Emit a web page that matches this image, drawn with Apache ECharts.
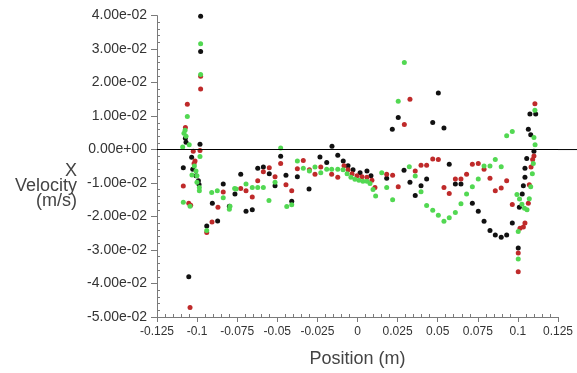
<!DOCTYPE html>
<html><head><meta charset="utf-8">
<script src="https://cdn.jsdelivr.net/npm/echarts@6/dist/echarts.min.js"></script>
<style>html,body{margin:0;padding:0;background:#fff}#c{width:577px;height:373px}</style>
</head><body><div id="c"></div>
<script>
// Axis ranges / ticks
const xRange = [-0.125, 0.125];
const xStep = 0.025;
const yRange = [-0.05, 0.04];
const yStep = 0.01;
const yTitleLines = ['X', 'Velocity', '(m/s)'];

// Series data: [position (m), x velocity (m/s)]
const blackPts = [
  [-0.0978,0.0398],[-0.0978,0.0293],[-0.1073,0.0034],[-0.1069,0.0022],[-0.0982,0.0016],
  [-0.1034,-0.0023],[-0.1086,-0.0054],[-0.1027,-0.0059],[-0.1007,-0.0078],[-0.0992,-0.0093],
  [-0.0988,-0.0104],[-0.0837,-0.0103],[-0.0905,-0.0160],[-0.0799,-0.0169],[-0.0764,-0.0133],
  [-0.0872,-0.0213],[-0.0940,-0.0228],[-0.1052,-0.0380],[-0.0728,-0.0074],[-0.0622,-0.0056],
  [-0.0587,-0.0052],[-0.0550,-0.0072],[-0.0695,-0.0184],[-0.0656,-0.0180],[-0.0514,-0.0108],
  [-0.0479,-0.0020],[-0.0446,-0.0077],[-0.0410,-0.0154],[-0.0302,-0.0118],[-0.0375,-0.0081],
  [-0.0234,-0.0022],[-0.0192,-0.0039],[-0.0159,0.0010],[-0.0123,-0.0017],[-0.0089,-0.0034],
  [-0.0059,-0.0048],[-0.0028,-0.0060],[0.0016,-0.0069],[0.0059,-0.0064],[0.0084,-0.0078],
  [0.0217,0.0061],[0.0254,0.0096],[0.0504,0.0169],[0.0469,0.0081],[0.0539,0.0064],
  [0.0182,-0.0086],[0.0290,-0.0062],[0.0327,-0.0098],[0.0360,-0.0137],[0.0396,-0.0108],
  [0.0431,-0.0088],[0.0572,-0.0044],[0.0610,-0.0103],[0.0645,-0.0103],[0.0716,-0.0160],
  [0.0753,-0.0184],[0.0789,-0.0214],[0.0826,-0.0242],[0.0859,-0.0255],[0.0896,-0.0262],
  [0.0930,-0.0255],[0.0965,-0.0219],[0.1009,-0.0172],[0.1002,-0.0294],[0.1027,-0.0133],
  [0.1034,-0.0108],[0.1044,-0.0083],[0.1044,-0.0056],[0.1055,-0.0027],[0.1100,-0.0005],
  [0.1080,0.0044],[0.1065,0.0061],[0.1075,0.0106],[0.1111,0.0106]
];
const redPts = [
  [-0.0978,0.0219],[-0.0978,0.0181],[-0.1061,0.0135],[-0.1073,0.0066],[-0.1024,-0.0005],
  [-0.0982,-0.0003],[-0.1013,-0.0034],[-0.1019,-0.0042],[-0.1086,-0.0109],[-0.1052,-0.0160],
  [-0.1040,-0.0166],[-0.0837,-0.0127],[-0.0870,-0.0172],[-0.0907,-0.0216],[-0.0940,-0.0248],
  [-0.1044,-0.0472],[-0.0728,-0.0116],[-0.0695,-0.0123],[-0.0656,-0.0142],[-0.0622,-0.0093],
  [-0.0587,-0.0066],[-0.0550,-0.0054],[-0.0514,-0.0081],[-0.0479,-0.0042],[-0.0446,-0.0105],
  [-0.0410,-0.0123],[-0.0375,-0.0057],[-0.0338,-0.0033],[-0.0300,-0.0060],[-0.0265,-0.0074],
  [-0.0229,-0.0052],[-0.0161,-0.0074],[-0.0123,-0.0083],[-0.0084,-0.0048],[-0.0059,-0.0060],
  [-0.0034,-0.0072],[-0.0003,-0.0078],[0.0028,-0.0081],[0.0059,-0.0083],[0.0090,-0.0092],
  [0.0109,-0.0113],[0.0292,0.0075],[0.0327,0.0150],[0.0182,-0.0074],[0.0219,-0.0077],
  [0.0254,-0.0111],[0.0360,-0.0064],[0.0396,-0.0047],[0.0431,-0.0047],[0.0469,-0.0028],
  [0.0504,-0.0030],[0.0539,-0.0113],[0.0572,-0.0131],[0.0610,-0.0088],[0.0645,-0.0088],
  [0.0680,-0.0074],[0.0716,-0.0044],[0.0753,-0.0042],[0.0789,-0.0059],[0.0826,-0.0086],
  [0.0859,-0.0123],[0.0896,-0.0115],[0.0930,-0.0093],[0.0965,-0.0164],[0.1002,-0.0309],
  [0.1002,-0.0365],[0.1013,-0.0235],[0.1034,-0.0231],[0.1044,-0.0219],[0.1065,-0.0160],
  [0.1071,-0.0105],[0.1082,-0.0052],[0.1092,-0.0030],[0.1100,-0.0019],[0.1106,0.0137]
];
const greenPts = [
  [-0.0978,0.0316],[-0.0978,0.0224],[-0.1061,0.0099],[-0.1075,0.0058],[-0.1082,0.0049],
  [-0.1069,0.0040],[-0.1090,0.0008],[-0.1049,0.0014],[-0.0982,-0.0021],[-0.1017,-0.0049],
  [-0.1007,-0.0064],[-0.1032,-0.0076],[-0.1001,-0.0078],[-0.1001,-0.0098],[-0.0986,-0.0113],
  [-0.0986,-0.0123],[-0.1086,-0.0157],[-0.1044,-0.0169],[-0.0909,-0.0128],[-0.0874,-0.0123],
  [-0.0837,-0.0144],[-0.0799,-0.0178],[-0.0757,-0.0118],[-0.0940,-0.0242],[-0.0795,-0.0169],
  [-0.0766,-0.0116],[-0.0695,-0.0103],[-0.0656,-0.0113],[-0.0622,-0.0113],[-0.0587,-0.0113],
  [-0.0552,-0.0152],[-0.0514,-0.0098],[-0.0479,0.0005],[-0.0441,-0.0170],[-0.0410,-0.0165],
  [-0.0375,-0.0034],[-0.0338,-0.0056],[-0.0300,-0.0064],[-0.0265,-0.0052],[-0.0229,-0.0069],
  [-0.0192,-0.0059],[-0.0161,-0.0059],[-0.0123,-0.0059],[-0.0090,-0.0060],[-0.0065,-0.0072],
  [-0.0041,-0.0083],[-0.0016,-0.0089],[0.0009,-0.0092],[0.0034,-0.0095],[0.0059,-0.0095],
  [0.0078,-0.0101],[0.0097,-0.0119],[0.0113,-0.0139],[0.0292,0.0260],[0.0254,0.0144],
  [0.0151,-0.0069],[0.0182,-0.0113],[0.0219,-0.0150],[0.0323,-0.0051],[0.0360,-0.0079],
  [0.0396,-0.0126],[0.0431,-0.0167],[0.0469,-0.0181],[0.0504,-0.0196],[0.0539,-0.0214],
  [0.0572,-0.0204],[0.0610,-0.0188],[0.0645,-0.0162],[0.0680,-0.0133],[0.0716,-0.0111],
  [0.0753,-0.0088],[0.0789,-0.0049],[0.0826,-0.0049],[0.0859,-0.0030],[0.0896,-0.0051],
  [0.0930,0.0041],[0.0965,0.0054],[0.1002,-0.0327],[0.1002,-0.0245],[0.0994,-0.0134],
  [0.1010,-0.0148],[0.1025,-0.0163],[0.1041,-0.0175],[0.1057,-0.0180],[0.1071,-0.0147],
  [0.1080,-0.0111],[0.1090,-0.0072],[0.1096,-0.0042],[0.1107,0.0014],[0.1100,0.0036],
  [0.1106,0.0117]
];

const FONT = 'Liberation Sans, Arial, sans-serif';
function fmtExp(v){
  if (Math.abs(v) < 1e-12) return '0.00e+00';
  const s = v.toExponential(2);
  const parts = s.split('e');
  let sign = parts[1][0], d = parts[1].slice(1);
  if (d.length < 2) d = '0' + d;
  return parts[0] + 'e' + sign + d;
}
function fmtX(v){ return String(parseFloat(v.toFixed(3))); }

const chart = echarts.init(document.getElementById('c'), null, {renderer:'canvas'});
const axisColor = '#7a7a7a';
const titleGraphics = yTitleLines.map(function(t, i){
  return {type:'text', right:500, top:162 + i*15, silent:true,
    style:{text:t, fill:'#444', fontSize:18, fontFamily:FONT, lineHeight:15}};
});
const option = {
  animation: false,
  backgroundColor: '#fff',
  grid: {left:157, right:19, top:15.6, bottom:52.3, containLabel:false},
  xAxis: [{
    type:'value', min:xRange[0], max:xRange[1], interval:xStep,
    axisLine:{show:true, onZero:false, lineStyle:{color:axisColor, width:1}},
    axisTick:{show:true, length:5, lineStyle:{color:axisColor}},
    axisLabel:{fontSize:12, color:'#333', margin:9, fontFamily:FONT, formatter:fmtX},
    splitLine:{show:false},
    name:'Position (m)', nameLocation:'middle', nameGap:33,
    nameTextStyle:{fontSize:18, color:'#444', fontFamily:FONT}
  },{
    type:'value', min:xRange[0], max:xRange[1], interval:xStep, position:'bottom',
    axisLine:{show:false, onZero:false}, axisLabel:{show:false},
    axisTick:{show:false, inside:true},
    minorTick:{show:true, splitNumber:5, length:3, lineStyle:{color:axisColor}},
    splitLine:{show:false}
  }],
  yAxis: [{
    type:'value', min:yRange[0], max:yRange[1], interval:yStep,
    axisLine:{show:true, onZero:false, lineStyle:{color:axisColor, width:1}},
    axisTick:{show:true, length:6, lineStyle:{color:axisColor}},
    axisLabel:{fontSize:14, color:'#333', margin:10, fontFamily:FONT, formatter:fmtExp},
    splitLine:{show:false}
  },{
    type:'value', min:yRange[0], max:yRange[1], interval:yStep, position:'left',
    axisLine:{show:false, onZero:false}, axisLabel:{show:false},
    axisTick:{show:false, inside:true},
    minorTick:{show:true, splitNumber:5, length:3, lineStyle:{color:axisColor}},
    splitLine:{show:false}
  }],
  graphic: titleGraphics,
  series: [
    {type:'scatter', name:'black', data:blackPts, symbolSize:5, itemStyle:{color:'#111111', opacity:1},
     markLine:{silent:true, symbol:['none','none'], label:{show:false},
       lineStyle:{color:'#000', width:1, type:'solid'}, data:[{yAxis:0}]}},
    {type:'scatter', name:'red', data:redPts, symbolSize:5, itemStyle:{color:'#bf2a2a', opacity:1}},
    {type:'scatter', name:'green', data:greenPts, symbolSize:5, itemStyle:{color:'#52d852', opacity:1}}
  ]
};
chart.setOption(option);
// extend the zero line to the right edge, positioned through the axis scale
const p0 = chart.convertToPixel({xAxisIndex:0, yAxisIndex:0}, [xRange[1], 0]);
chart.setOption({graphic: titleGraphics.map(function(){ return {}; }).concat([{type:'line', silent:true,
  shape:{x1:p0[0], y1:p0[1], x2:chart.getWidth(), y2:p0[1]},
  style:{stroke:'#000', lineWidth:1}}])});
</script>
</body></html>
